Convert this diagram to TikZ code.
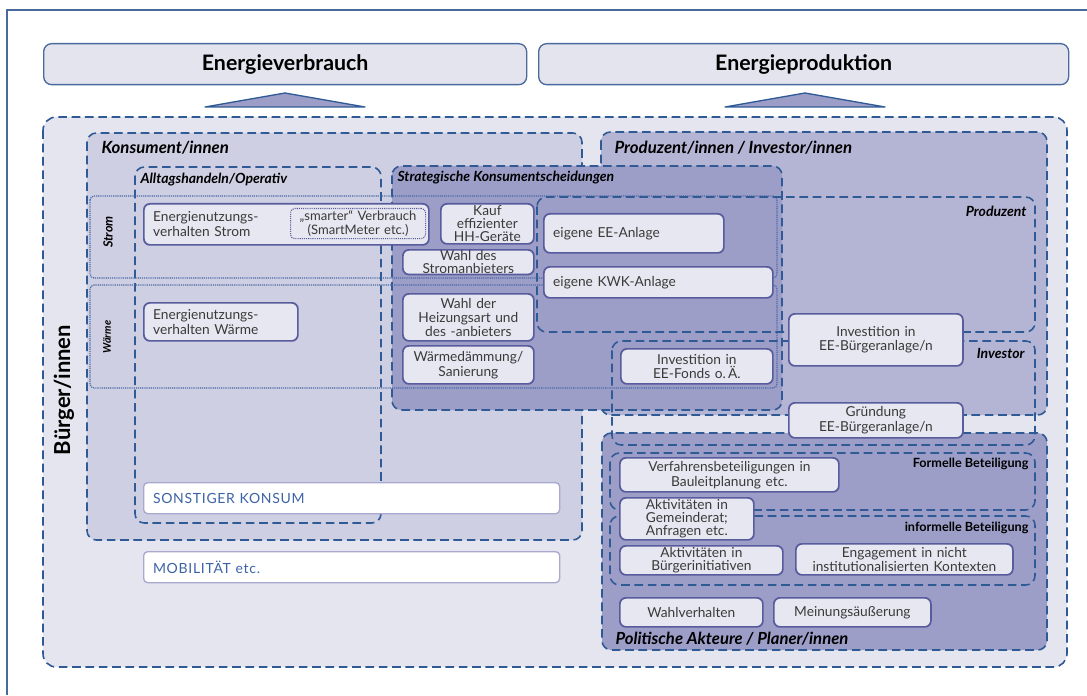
\documentclass[tikz,border=0pt]{standalone}
\usepackage{fontspec}
\setmainfont{Lato}
\setsansfont{Lato}

\definecolor{dashblue}{HTML}{2F5A96}
\definecolor{dotblue}{HTML}{4A6AA6}
\definecolor{itemline}{HTML}{585B9C}
\definecolor{itemfill}{HTML}{E7E7F1}
\definecolor{lilac}{HTML}{A9A9D0}
\definecolor{capblue}{HTML}{3D63A6}
\definecolor{bgfill}{HTML}{E5E5EF}
\definecolor{konsfill}{HTML}{CECFE2}
\definecolor{prodfill}{HTML}{B4B5D4}
\definecolor{stratfill}{HTML}{9C9EC8}
\definecolor{headfill}{HTML}{E4E4EE}
\definecolor{headline}{HTML}{4A6A9C}
\definecolor{txtgray}{HTML}{3A3A3A}

\tikzset{every picture/.style={line width=0.75pt}}
\tikzset{
  frameline/.style={draw=headline, line width=0.8pt},
  area/.style={draw=dashblue, line width=1.2pt, dash pattern=on 6.5pt off 3.5pt, rounded corners=7pt},
  band/.style={draw=dotblue, line width=0.9pt, dash pattern=on 0.9pt off 0.7pt, rounded corners=3pt},
  tri/.style={draw=dashblue, fill=stratfill, line width=1pt, line join=round},
  headbox/.style 2 args={draw=headline, fill=headfill, line width=1pt, rounded corners=6pt, anchor=north west,
    minimum width=#1*0.75pt, minimum height=#2*0.75pt, font=\fontsize{16}{18}\selectfont\bfseries},
  item/.style={draw=itemline, fill=itemfill, line width=1.3pt, rounded corners=4.5pt, inner xsep=3pt, inner ysep=0.5pt,
    text=txtgray, font=\fontsize{10.3}{11}\selectfont, align=center, anchor=north west},
  itembox/.style 2 args={item, minimum width=#1*0.75pt, minimum height=#2*0.75pt, text width=#1*0.75pt-6pt},
  leftitem/.style 2 args={itembox={#1}{#2}, align=left, inner xsep=7pt, text width=#1*0.75pt-14pt},
  smartbox/.style 2 args={draw=itemline, fill=itemfill, line width=0.8pt, dash pattern=on 0.8pt off 0.8pt,
    rounded corners=3pt, inner xsep=1pt, inner ysep=0pt, anchor=north west, align=center, text=txtgray,
    font=\fontsize{9.8}{10.5}\selectfont, minimum width=#1*0.75pt, minimum height=#2*0.75pt, text width=#1*0.75pt-2pt},
  plainbox/.style 2 args={draw=lilac, fill=white, line width=1pt, rounded corners=3pt, anchor=north west,
    minimum width=#1*0.75pt, minimum height=#2*0.75pt, text width=#1*0.75pt-14pt, align=left, inner xsep=7pt,
    text=capblue, font=\fontsize{10.5}{12}\selectfont\addfontfeatures{LetterSpace=5}},
  arealabel/.style={inner sep=0.75pt, font=\fontsize{10.5}{12}\selectfont\bfseries\itshape},
  biglabel/.style={inner sep=0.75pt, font=\fontsize{12.6}{14}\selectfont\bfseries\itshape},
  partlabel/.style={inner sep=0.75pt, font=\fontsize{9.5}{11}\selectfont\bfseries},
}

\begin{document}
\begin{tikzpicture}[x=0.75pt,y=0.75pt,yscale=-1,xscale=1]
\useasboundingbox (0,0) rectangle (1087,695);

%Straight Lines: outer frame
\draw[frameline] (7,695) -- (7,10) -- (1087,10);

% Text Node
\node[headbox={483}{41}] (verbrauch) at (43,43) {Energieverbrauch};
% Text Node
\node[headbox={530}{41}] (produktion) at (538,43) {Energieproduktion};

%Shape: Triangle
\draw[tri] (205,107) -- (285,93) -- (365,107) -- cycle;
%Shape: Triangle
\draw[tri] (725,107) -- (805,93) -- (885,107) -- cycle;

%Shape: Rounded Rect (Buerger)
\draw[area, fill=bgfill, rounded corners=10pt] (43,117) rectangle (1067,667);
%Shape: Rounded Rect (Konsument)
\draw[area, fill=konsfill] (87,133) rectangle (582,540);
%Shape: Rounded Rect (Produzent/Investor)
\draw[area, fill=prodfill] (601,132) rectangle (1047,415);
%Shape: Rounded Rect (Alltag)
\draw[area] (135,167) rectangle (381,523);
%Shape: Rounded Rect (Strategisch)
\draw[area, fill=stratfill] (392,166) rectangle (782,410);
%Shape: Rounded Rect (Politik)
\draw[area, fill=stratfill] (602,433) rectangle (1047,650);
%Shape: Dotted Rect (Strom)
\draw[band] (90,196) rectangle (777,278);
%Shape: Dotted Rect (Waerme)
\draw[band] (90,285) rectangle (777,388);
%Shape: Rounded Rect (Produzent)
\draw[area] (537,197) rectangle (1035,332);
%Shape: Rounded Rect (Investor)
\draw[area] (612,341) rectangle (1035,445);
%Shape: Rounded Rect (formell)
\draw[area] (610,453) rectangle (1035,510);
%Shape: Rounded Rect (informell)
\draw[area] (610,516) rectangle (1035,585);

% Text Node
\node[rotate=90, inner sep=0.75pt, font=\fontsize{16.5}{18}\selectfont\bfseries] (buerger) at (64,390) {Bürger/innen};
% Text Node
\node[biglabel, anchor=west] (konsument) at (100,148) {Konsument/innen};
% Text Node
\node[biglabel, anchor=west] (prodinv) at (613,148) {Produzent/innen / Investor/innen};
% Text Node
\node[arealabel, anchor=west] (alltag) at (139,180) {Alltagshandeln/Operativ};
% Text Node
\node[arealabel, anchor=west] (strateg) at (396,178) {Strategische Konsumentscheidungen};
% Text Node
\node[arealabel, anchor=east] (produzent) at (1028,211) {Produzent};
% Text Node
\node[arealabel, anchor=east] (investor) at (1026,353) {Investor};
% Text Node
\node[arealabel, rotate=90, font=\fontsize{9.5}{11}\selectfont\bfseries\itshape] (strom) at (108,232) {Strom};
% Text Node
\node[arealabel, rotate=90, font=\fontsize{8}{9}\selectfont\bfseries\itshape] (waerme) at (107,337) {Wärme};
% Text Node
\node[partlabel, anchor=east] (formell) at (1030,464) {Formelle Beteiligung};
% Text Node
\node[partlabel, anchor=east] (informell) at (1030,528) {informelle Beteiligung};
% Text Node
\node[biglabel, font=\fontsize{12.5}{14}\selectfont\bfseries\itshape, anchor=west] (politik) at (614,639) {Politische Akteure / Planer/innen};

% Strom
\node[leftitem={285}{41}] (esv) at (143,203) {Energienutzungs-\\verhalten Strom};
\node[smartbox={135}{30}] (smart) at (290,208) {„smarter“ Verbrauch\\(SmartMeter etc.)};
\node[itembox={93}{40}, font=\fontsize{10.3}{9.8}\selectfont] (kauf) at (440,203) {Kauf\\effizienter\\HH-Geräte};
\node[itembox={131}{24}, font=\fontsize{10.3}{9.8}\selectfont] (wahlstrom) at (402,249) {Wahl des\\Stromanbieters};
\node[leftitem={180}{39}] (eeanlage) at (543,213) {eigene EE-Anlage};
\node[leftitem={229}{31}] (kwk) at (543,266) {eigene KWK-Anlage};

% Waerme
\node[leftitem={154}{38}] (esw) at (143,302) {Energienutzungs-\\verhalten Wärme};
\node[itembox={131}{47}, font=\fontsize{10.3}{10.5}\selectfont] (heizung) at (402,293) {Wahl der\\Heizungsart und\\des -anbieters};
\node[itembox={131}{38}] (daemmung) at (402,345) {Wärmedämmung/\\Sanierung};
\node[itembox={152}{35}] (fonds) at (620,348) {Investition in\\EE-Fonds o.\,Ä.};

% Investor
\node[itembox={174}{52}] (invanlage) at (788,313) {Investition in\\EE-Bürgeranlage/n};
\node[itembox={174}{35}] (gruendung) at (788,402) {Gründung\\EE-Bürgeranlage/n};

% Konsum
\node[plainbox={416}{31}] (sonstig) at (143,482) {SONSTIGER KONSUM};
\node[plainbox={416}{31}] (mobil) at (143,551) {MOBILITÄT etc.};

% Politik
\node[itembox={219}{34}] (verfahren) at (619,457) {Verfahrensbeteiligungen in\\Bauleitplanung etc.};
\node[itembox={134}{42}, font=\fontsize{10.3}{9.8}\selectfont] (gemeinderat) at (619,497) {Aktivitäten in\\Gemeinderat;\\Anfragen etc.};
\node[itembox={163}{29}, font=\fontsize{10.3}{10}\selectfont] (initiativen) at (619,545) {Aktivitäten in\\Bürgerinitiativen};
\node[itembox={217}{31}, font=\fontsize{10.3}{10}\selectfont] (engagement) at (795,543) {Engagement in nicht\\institutionalisierten Kontexten};
\node[itembox={143}{29}] (wahl) at (619,597) {Wahlverhalten};
\node[itembox={157}{29}] (meinung) at (773,597) {Meinungsäußerung};

\end{tikzpicture}
\end{document}
